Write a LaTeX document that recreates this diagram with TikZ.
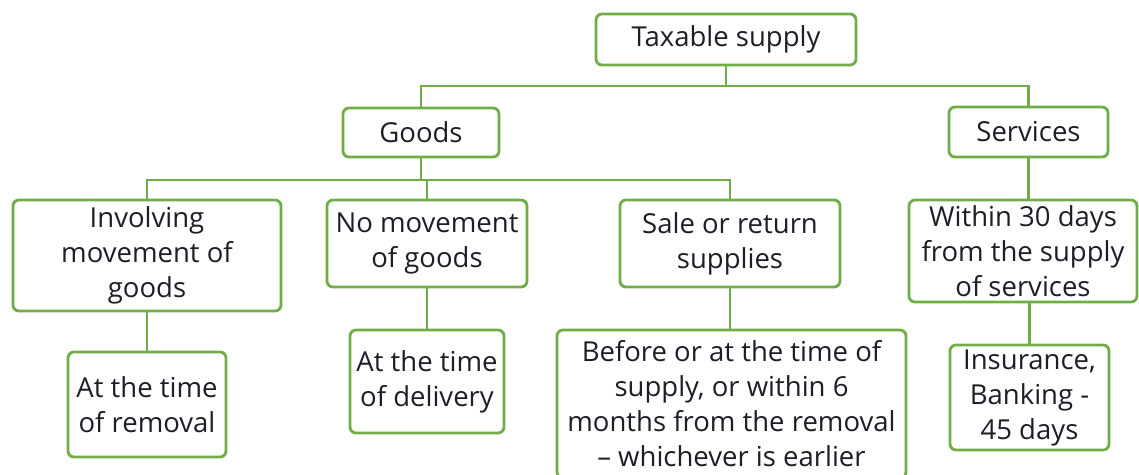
\documentclass[tikz,border=0pt]{standalone}
\usepackage{fontspec}
\setmainfont{Open Sans}
\usetikzlibrary{calc}
\definecolor{boxgreen}{RGB}{112,173,71}
\definecolor{inkgray}{RGB}{30,30,40}
\begin{document}
\begin{tikzpicture}[x=1pt,y=-1pt,
  box/.style={draw=boxgreen, line width=2.8pt, rounded corners=6pt, fill=white,
    align=center, inner sep=0pt, text=inkgray,
    font=\fontsize{27.5}{35}\selectfont},
  link/.style={draw=boxgreen, line width=2.8pt}]
\useasboundingbox (0,0) rectangle (1139,474);

% top level
\node[box, minimum width=260, minimum height=51] (tax) at (726,39.5) {Taxable supply};

% second level
\node[box, minimum width=156, minimum height=49] (goods) at (421,132.5) {Goods};
\node[box, minimum width=159, minimum height=50] (services) at (1028.5,132) {Services};

% goods branches
\node[box, minimum width=268, minimum height=111] (inv) at (147,255.5) {Involving\\movement of\\goods};
\node[box, minimum width=200, minimum height=87] (nomov) at (427,243.5) {No movement\\of goods};
\node[box, minimum width=220, minimum height=87] (sale) at (730,243.5) {Sale or return\\supplies};

% services branch
\node[box, minimum width=228, minimum height=102] (within) at (1023,251) {Within 30 days\\from the supply\\of services};

% leaves
\node[box, minimum width=158, minimum height=105] (removal) at (147,404.5) {At the time\\of removal};
\node[box, minimum width=154, minimum height=103] (delivery) at (427,381.5) {At the time\\of delivery};
\node[box, minimum width=349, minimum height=148] (before) at (731.5,404) {Before or at the time of\\supply, or within 6\\months from the removal\\-- whichever is earlier};
\node[box, minimum width=159, minimum height=105] (insurance) at (1029.5,397.5) {Insurance,\\Banking -\\45 days};

% bus lines
\coordinate (busA) at (0,86);
\coordinate (busB) at (0,180);

\draw[link] (tax.south) -- (tax.south |- busA);
\draw[link] (goods.north) -- (goods.north |- busA) -| (services.north);

\draw[link] (goods.south) -- (goods.south |- busB);
\draw[link] (inv.north) -- (inv.north |- busB) -| (sale.north);
\draw[link] (nomov.north) -- (nomov.north |- busB);

\draw[link] (services.south) -- (within.north -| services.south);
\draw[link] (inv.south) -- (removal.north);
\draw[link] (nomov.south) -- (delivery.north);
\draw[link] (sale.south) -- (sale.south |- before.north);
\draw[link] (within.south -| insurance.north) -- (insurance.north);
\end{tikzpicture}
\end{document}
